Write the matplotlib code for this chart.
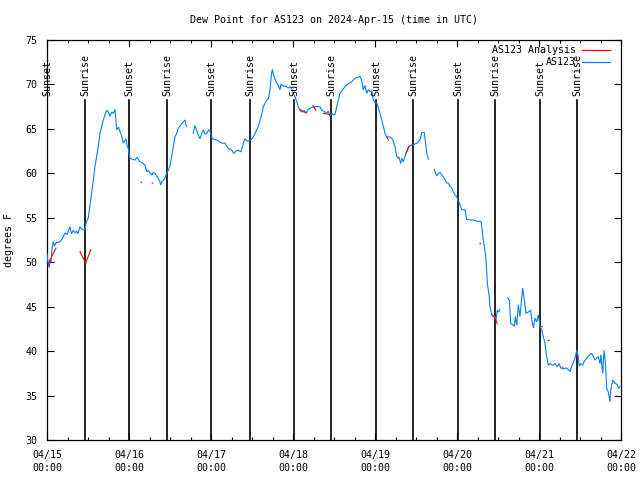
import numpy as np
import matplotlib
matplotlib.use("Agg")
import matplotlib.pyplot as plt
from matplotlib.ticker import MultipleLocator

nan = np.nan

# AS123 observations: time in days since 2024-04-15 00:00 UTC, dew point (F); NaN = gap
obs_day = [0.000, 0.012, 0.028, 0.037, 0.049, 0.061, 0.077, 0.091, 0.110, 0.159, 0.183, 0.220,
           0.244, 0.280, 0.299, 0.321, 0.341, 0.362, 0.378, 0.402, 0.427, 0.463, 0.476, 0.504,
           0.524, 0.543, 0.565, 0.585, 0.606, 0.628, 0.646, 0.667, 0.687, 0.707, 0.728, 0.750,
           0.768, 0.789, 0.809, 0.829, 0.850, 0.872, 0.890, 0.911, 0.930, 0.945, 0.963, 0.976,
           0.991, 1.012, 1.037, 1.073, 1.098, 1.134, 1.165, 1.195, 1.216, 1.238, 1.277, 1.293,
           1.317, 1.357, 1.372, 1.387, 1.402, 1.418, 1.439, 1.460, 1.482, 1.500, 1.521, 1.540,
           1.561, 1.582, 1.601, 1.622, 1.643, 1.662, 1.683, 1.695, 1.704,
           1.740,
           1.784, 1.805, 1.823, 1.848, 1.866, 1.887, 1.906, 1.927, 1.948, 1.970, 1.988, 2.016,
           2.043, 2.070, 2.098, 2.130, 2.171, 2.211, 2.252, 2.280, 2.305, 2.333, 2.366, 2.394,
           2.415, 2.443, 2.485, 2.512, 2.537, 2.577, 2.598, 2.618, 2.638, 2.659, 2.679, 2.699,
           2.720, 2.734, 2.748, 2.768, 2.793, 2.821, 2.841, 2.854, 2.882, 2.915, 2.943, 2.963,
           2.984, 3.004, 3.024, 3.045, 3.065, 3.085, 3.106, 3.134, 3.159, 3.187, 3.207, 3.248,
           3.280, 3.329, 3.350, 3.390, 3.411, 3.430, 3.451, 3.472, 3.491, 3.512, 3.533, 3.555,
           3.573, 3.604, 3.634, 3.674, 3.716, 3.756, 3.787, 3.817, 3.837, 3.857, 3.878, 3.899,
           3.918, 3.939, 3.960, 3.980, 4.000, 4.021, 4.043, 4.061, 4.082, 4.102, 4.122, 4.143,
           4.183, 4.207, 4.223, 4.244, 4.265, 4.284, 4.296, 4.313, 4.326, 4.345, 4.366, 4.387,
           4.406, 4.427, 4.448, 4.467, 4.488, 4.509, 4.531, 4.549, 4.570, 4.602, 4.616, 4.631,
           4.650,
           4.690,
           4.723, 4.752, 4.774, 4.793, 4.833, 4.854, 4.874, 4.896, 4.915, 4.935, 4.955, 4.976,
           4.996, 5.012, 5.024, 5.043, 5.057, 5.098, 5.118, 5.159, 5.207, 5.244, 5.293, 5.309,
           5.321, 5.338, 5.354, 5.370, 5.394, 5.402, 5.423, 5.443, 5.463, 5.476, 5.491, 5.506,
           5.524,
           5.570,
           5.618, 5.638, 5.646, 5.655, 5.687, 5.699, 5.711, 5.728, 5.748, 5.768, 5.789, 5.801,
           5.817, 5.841, 5.870, 5.899, 5.911, 5.932, 5.951, 5.972, 5.992, 6.012, 6.033, 6.053,
           6.073, 6.085, 6.101, 6.113, 6.134, 6.167, 6.195, 6.223, 6.244, 6.265, 6.296, 6.338,
           6.378, 6.411, 6.439, 6.460, 6.479, 6.491, 6.509, 6.533, 6.549, 6.582, 6.622, 6.643,
           6.662, 6.683, 6.704, 6.723, 6.744, 6.756, 6.765, 6.777, 6.793, 6.809, 6.826, 6.845,
           6.866, 6.874, 6.899, 6.927, 6.955, 6.972, 6.988]
obs_val = [51.0, 50.0, 49.4, 50.3, 50.0, 51.5, 52.3, 51.8, 52.2, 52.3, 52.6, 53.3,
           53.1, 54.0, 53.2, 53.6, 53.3, 53.5, 53.2, 54.0, 53.7, 53.6, 54.4, 55.0,
           56.4, 57.8, 59.25, 60.8, 61.9, 63.2, 64.5, 65.3, 66.0, 66.6, 67.1, 66.9,
           66.4, 66.9, 66.75, 67.2, 64.9, 65.2, 64.7, 64.2, 63.4, 63.6, 63.9, 63.2,
           62.8, 61.7, 61.6, 61.5, 61.8, 61.3, 61.2, 60.9, 60.2, 60.3, 59.8, 60.1,
           60.0, 59.4, 59.2, 58.7, 59.1, 59.2, 59.5, 60.0, 60.4, 60.9, 61.9, 63.0,
           64.1, 64.5, 65.1, 65.3, 65.6, 65.8, 66.0, 65.4, 65.25,
           nan,
           64.5, 65.4, 64.9, 64.2, 63.9, 64.5, 64.9, 64.4, 64.5, 64.9, 64.7, 63.9,
           63.8, 63.75, 63.6, 63.4, 63.4, 62.8, 62.6, 62.25, 62.5, 62.6, 62.4, 63.4,
           63.9, 63.6, 63.75, 64.0, 64.5, 65.25, 66.0, 66.6, 67.5, 67.9, 68.2, 68.4,
           69.4, 70.9, 71.7, 70.9, 70.3, 69.9, 69.4, 70.05, 69.8, 69.8, 69.6, 69.75,
           69.5, 69.0, 68.6, 68.1, 67.5, 67.1, 66.9, 67.1, 66.8, 67.2, 67.3, 67.5,
           67.5, 67.5, 67.1, 66.9, 66.75, 67.0, 66.4, 66.8, 66.6, 66.6, 67.5, 68.3,
           69.0, 69.4, 69.75, 70.1, 70.3, 70.7, 70.8, 70.9, 70.5, 69.4, 69.9, 69.0,
           69.4, 69.2, 69.3, 68.25, 68.0, 67.9, 67.3, 66.75, 66.0, 65.3, 64.5, 64.1,
           64.1, 63.9, 63.6, 63.0, 61.9, 61.7, 61.7, 61.1, 61.7, 61.3, 61.9, 62.4,
           63.0, 63.1, 63.2, 63.2, 63.3, 63.4, 63.6, 63.75, 64.6, 64.6, 63.5, 62.25,
           61.6,
           nan,
           60.4, 59.7, 60.0, 60.1, 59.6, 59.3, 58.9, 58.9, 58.5, 58.4, 57.9, 57.6,
           57.4, 57.0, 56.8, 56.3, 55.9, 55.9, 54.8, 54.75, 54.75, 54.6, 54.6, 53.5,
           52.5, 51.5, 50.25, 47.6, 46.1, 45.0, 44.1, 43.9, 43.9, 43.5, 44.6, 44.4,
           44.7,
           nan,
           46.0, 45.75, 44.6, 43.1, 42.9, 42.8, 43.9, 42.9, 45.2, 43.9, 46.0, 47.1,
           46.0, 44.25, 44.4, 44.6, 43.5, 42.6, 43.7, 43.3, 44.1, 42.75, 42.4, 41.6,
           40.9, 39.9, 39.0, 38.4, 38.6, 38.4, 38.6, 38.25, 38.6, 38.1, 38.0, 38.1,
           37.7, 38.6, 39.2, 40.1, 39.4, 38.3, 38.6, 38.4, 38.8, 39.2, 39.6, 39.75,
           39.4, 39.0, 39.2, 39.4, 38.6, 39.6, 38.5, 37.5, 40.1, 38.8, 35.8, 35.4,
           34.3, 35.6, 36.75, 36.4, 36.2, 35.8, 36.0]

# AS123 Analysis (red); NaN separates pieces
ana_day = [0.012, 0.037, 0.061, 0.110, nan,
           0.402, 0.472, 0.533, nan,
           1.146, 1.152, nan, 1.284, 1.290, nan,
           3.085, 3.122, 3.167, nan,
           3.244, 3.280, nan,
           3.370, 3.451, nan,
           4.143, 4.162, nan,
           4.284, 4.290, nan,
           4.378, 4.415, nan,
           5.280, 5.286, nan,
           5.423, 5.460, 5.491, nan,
           6.033, 6.040, nan, 6.115, 6.121, nan, 6.284, 6.290, nan, 6.460, 6.466]
ana_val = [49.6, 50.25, 50.7, 51.6, nan,
           51.2, 49.9, 51.4, nan,
           59.0, 59.0, nan, 58.9, 58.9, nan,
           67.2, 66.95, 66.8, nan,
           67.6, 67.1, nan,
           66.75, 66.6, nan,
           64.1, 63.75, nan,
           61.8, 61.8, nan,
           62.3, 63.0, nan,
           52.1, 52.1, nan,
           44.1, 43.8, 43.1, nan,
           42.75, 42.75, nan, 41.2, 41.2, nan, 38.2, 38.2, nan, 39.4, 39.4]

sunset_day = [0.003, 1.000, 2.000, 3.012, 4.012, 5.012, 6.012]
sunrise_day = [0.463, 1.463, 2.476, 3.463, 4.463, 5.463, 6.463]
sun_line_top = 68.3

xtick_labels = ["04/15\n00:00", "04/16\n00:00", "04/17\n00:00", "04/18\n00:00",
                "04/19\n00:00", "04/20\n00:00", "04/21\n00:00", "04/22\n00:00"]
title = "Dew Point for AS123 on 2024-Apr-15 (time in UTC)"

FONT = "DejaVu Sans Mono"
FS = 7.2

fig = plt.figure(figsize=(6.4, 4.8), dpi=100)
ax = fig.add_axes([47 / 640, 1 - 440 / 480, 574 / 640, 400 / 480])

blue = "#0080ff"
red = "#ff0000"

ax.plot(obs_day, obs_val, color=blue, lw=0.8, zorder=3, solid_joinstyle="miter")
ax.plot(ana_day, ana_val, color=red, lw=0.8, zorder=4)

for d in sunset_day:
    ax.plot([d, d], [30, sun_line_top], color="black", lw=1.2, zorder=2)
    ax.text(d, sun_line_top + 0.35, "Sunset", rotation=90, ha="center", va="bottom",
            fontsize=FS, family=FONT, zorder=5)
for d in sunrise_day:
    ax.plot([d, d], [30, sun_line_top], color="black", lw=1.2, zorder=2)
    ax.text(d, sun_line_top + 0.35, "Sunrise", rotation=90, ha="center", va="bottom",
            fontsize=FS, family=FONT, zorder=5)

ax.set_xlim(0, 7)
ax.set_ylim(30, 75)
ax.set_xticks(range(len(xtick_labels)))
ax.set_xticklabels(xtick_labels, family=FONT, fontsize=FS, linespacing=1.35)
ax.xaxis.set_minor_locator(MultipleLocator(0.25))
ax.set_yticks(np.arange(30, 76, 5))
ax.set_yticklabels([str(v) for v in range(30, 76, 5)], family=FONT, fontsize=FS)
ax.tick_params(which="both", direction="in", top=True, right=True, width=0.8)
ax.tick_params(which="major", length=5, pad=7)
ax.tick_params(which="minor", length=2.5)
for s in ax.spines.values():
    s.set_linewidth(0.9)

ax.set_ylabel("degrees F", family=FONT, fontsize=FS, labelpad=8)
ax.text(0.5, 1 + 20 / 400, title, transform=ax.transAxes, ha="center", va="center",
        family=FONT, fontsize=FS)

# legend (gnuplot style: text right-aligned, sample line to its right)
leg = [("AS123 Analysis", red, 0.975), ("AS123", blue, 0.945)]
for label, col, yy in leg:
    ax.text(0.922, yy, label, transform=ax.transAxes, ha="right", va="center",
            family=FONT, fontsize=FS, zorder=6)
    ax.plot([0.932, 0.981], [yy, yy], transform=ax.transAxes, color=col, lw=0.9,
            clip_on=False, zorder=6)

fig.savefig("out.png", dpi=100)
